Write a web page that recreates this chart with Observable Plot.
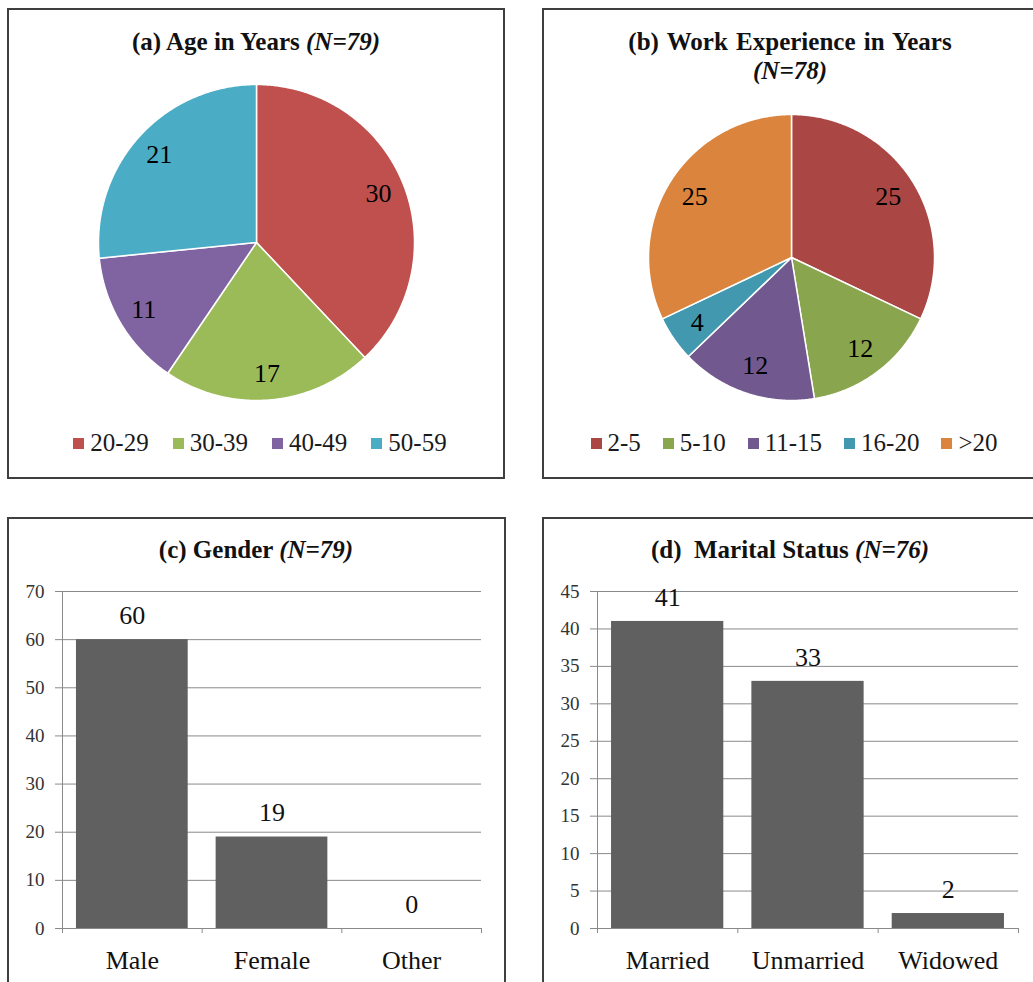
<!DOCTYPE html>
<html><head><meta charset="utf-8">
<script src="https://cdn.jsdelivr.net/npm/d3@7"></script>
<script src="https://cdn.jsdelivr.net/npm/@observablehq/plot@0.6"></script>
<style>
body{margin:0;background:#fff;}
#root{position:relative;width:1033px;height:982px;overflow:hidden;font-family:"Liberation Serif","Times New Roman",serif;}
.panel{position:absolute;border:2px solid #3f3f3f;box-sizing:border-box;pointer-events:none;}
.title{position:absolute;width:500px;text-align:center;font-weight:bold;font-size:25px;line-height:29px;color:#111;}
.title i{font-style:italic;}
.legend{position:absolute;width:500px;height:30px;display:flex;justify-content:center;align-items:center;font-size:25px;line-height:30px;color:#1a1a1a;white-space:nowrap;}
.legend .item{display:flex;align-items:center;}
.legend .sw{width:11px;height:11px;margin-right:6px;}
.plot{position:absolute;}
</style>
</head><body><div id="root"></div>
<script>
// ---- data ----
const ageLabels = ["20-29", "30-39", "40-49", "50-59"];
const ageValues = [30, 17, 11, 21];
const ageColors = ["#C0504D", "#9BBB59", "#8064A2", "#4BACC6"];

const expLabels = ["2-5", "5-10", "11-15", "16-20", ">20"];
const expValues = [25, 12, 12, 4, 25];
const expColors = ["#AA4643", "#89A54E", "#71588F", "#4198AF", "#DB843D"];

const genderCats = ["Male", "Female", "Other"];
const genderValues = [60, 19, 0];
const genderTicks = [0, 10, 20, 30, 40, 50, 60, 70];

const maritalCats = ["Married", "Unmarried", "Widowed"];
const maritalValues = [41, 33, 2];
const maritalTicks = [0, 5, 10, 15, 20, 25, 30, 35, 40, 45];

const FONT = '"Liberation Serif", "Times New Roman", serif';
const root = document.getElementById("root");

function place(el, left, top) {
  el.classList.add("plot");
  el.style.left = left + "px";
  el.style.top = top + "px";
  root.appendChild(el);
}

function pie(labels, values, colors, {width, height, cx, cy, r, labelR}) {
  const arcs = d3.pie().sort(null)(values);
  const pts = [];
  arcs.forEach((a, k) => {
    pts.push({key: labels[k], x: 0, y: 0});
    const n = Math.max(2, Math.ceil((a.endAngle - a.startAngle) / (Math.PI / 360)));
    for (let j = 0; j <= n; j++) {
      const t = a.startAngle + (a.endAngle - a.startAngle) * j / n;
      pts.push({key: labels[k], x: Math.sin(t), y: Math.cos(t)});
    }
  });
  const lab = arcs.map((a, k) => {
    const m = (a.startAngle + a.endAngle) / 2;
    return {key: labels[k], v: values[k], x: labelR * Math.sin(m), y: labelR * Math.cos(m)};
  });
  return Plot.plot({
    width, height,
    marginLeft: cx - r, marginRight: width - cx - r,
    marginTop: cy - r, marginBottom: height - cy - r,
    style: {fontFamily: FONT, fontSize: "25px", background: "transparent", overflow: "visible"},
    x: {domain: [-1, 1], axis: null},
    y: {domain: [-1, 1], axis: null},
    color: {domain: labels, range: colors},
    marks: [
      Plot.line(pts, {x: "x", y: "y", z: "key", fill: "key", stroke: "white", strokeWidth: 1.5, curve: "linear-closed"}),
      Plot.text(lab, {x: "x", y: "y", text: "v", fontSize: 26, fill: "#000"})
    ]
  });
}

function bars(cats, values, ticks, {width, height, marginLeft, marginRight, marginTop, marginBottom}) {
  const data = cats.map((c, i) => ({c, v: values[i], i}));
  return Plot.plot({
    width, height, marginLeft, marginRight, marginTop, marginBottom,
    style: {fontFamily: FONT, fontSize: "25px", background: "transparent", overflow: "visible"},
    x: {domain: [0, cats.length], axis: null},
    y: {domain: [ticks[0], ticks[ticks.length - 1]], axis: null},
    marks: [
      Plot.ruleY(ticks, {stroke: "#8a8a8a", strokeWidth: 1}),
      Plot.ruleX([0], {stroke: "#8a8a8a", strokeWidth: 1}),
      Plot.axisY({ticks, tickSize: 7, tickPadding: 11, fontSize: 19, stroke: "#8a8a8a", fill: "#333", label: null}),
      Plot.axisX({ticks: d3.range(cats.length + 1), tickSize: 5, tickFormat: () => "", stroke: "#8a8a8a", label: null}),
      Plot.rectY(data, {x1: d => d.i + 0.1, x2: d => d.i + 0.9, y1: 0, y2: "v", fill: "#606060"}),
      Plot.text(data, {x: d => d.i + 0.5, y: "v", dy: -24, text: d => String(d.v), fontSize: 26, fill: "#111"}),
      Plot.text(data, {x: d => d.i + 0.5, y: 0, dy: 32, text: "c", fontSize: 26, fill: "#111"})
    ]
  });
}

// ---- plots ----
place(pie(ageLabels, ageValues, ageColors, {width: 520, height: 490, cx: 256, cy: 242, r: 158, labelR: 0.83}), 0, 0);
place(pie(expLabels, expValues, expColors, {width: 513, height: 490, cx: 271, cy: 257, r: 143, labelR: 0.8}), 520, 0);
place(bars(genderCats, genderValues, genderTicks, {width: 520, height: 482, marginLeft: 62, marginRight: 39, marginTop: 91, marginBottom: 54}), 0, 500);
place(bars(maritalCats, maritalValues, maritalTicks, {width: 513, height: 482, marginLeft: 77, marginRight: 15, marginTop: 91, marginBottom: 54}), 520, 500);

// ---- titles ----
function title(html, cx, top, extra) {
  const d = document.createElement("div");
  d.className = "title";
  d.innerHTML = html;
  d.style.left = (cx - 250) + "px";
  d.style.top = top + "px";
  if (extra) Object.assign(d.style, extra);
  root.appendChild(d);
}
title("(a) Age in Years <i>(N=79)</i>", 256, 27);
title("(b) Work Experience in Years<br><i>(N=78)</i>", 790, 27, {wordSpacing: "2px"});
title("(c) Gender <i>(N=79)</i>", 256, 535);
title("(d)&nbsp; Marital Status <i>(N=76)</i>", 790, 535);

// ---- legends ----
function legend(labels, colors, cx, cy, gap) {
  const d = document.createElement("div");
  d.className = "legend";
  d.style.left = (cx - 250) + "px";
  d.style.top = (cy - 15) + "px";
  d.style.gap = gap + "px";
  labels.forEach((l, k) => {
    const it = document.createElement("div");
    it.className = "item";
    const sw = document.createElement("span");
    sw.className = "sw";
    sw.style.background = colors[k];
    const tx = document.createElement("span");
    tx.textContent = l;
    it.appendChild(sw); it.appendChild(tx);
    d.appendChild(it);
  });
  root.appendChild(d);
}
legend(ageLabels, ageColors, 260, 443, 24);
legend(expLabels, expColors, 794, 443, 22);

// ---- panel frames ----
function frame(left, top, w, h) {
  const d = document.createElement("div");
  d.className = "panel";
  Object.assign(d.style, {left: left + "px", top: top + "px", width: w + "px", height: h + "px"});
  root.appendChild(d);
}
frame(7, 8, 498, 471);
frame(542, 8, 520, 471);
frame(7, 517, 499, 500);
frame(542, 517, 520, 500);
</script>
</body></html>
